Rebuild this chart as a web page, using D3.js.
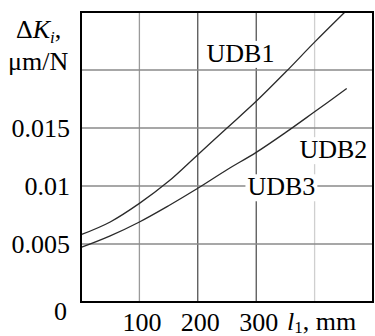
<!DOCTYPE html>
<html>
<head>
<meta charset="utf-8">
<script src="https://cdn.jsdelivr.net/npm/d3@7"></script>
<style>
  body { margin: 0; background: #fff; }
  text { font-family: "Liberation Serif", "Times New Roman", serif; fill: #000; }
</style>
</head>
<body>
<div id="chart"></div>
<script>
// curve data (l1 in mm, deltaK in um/N)
const lenUDB1 = [0, 50, 100, 150, 200, 250, 300, 350, 400, 452];
const valUDB1 = [0.0058, 0.0069, 0.0085, 0.0104, 0.0127, 0.0150, 0.0173, 0.0198, 0.0224, 0.025];
const lenUDB23 = [0, 50, 100, 150, 200, 250, 300, 350, 400, 455];
const valUDB23 = [0.0047, 0.0057, 0.0069, 0.0083, 0.0098, 0.0114, 0.0129, 0.0146, 0.0164, 0.0184];

const xTicks = [100, 200, 300];
const yTicks = [0, 0.005, 0.01, 0.015];
const xGrid = [100, 200, 300, 400];
const yGrid = [0.005, 0.01, 0.015, 0.02];

const width = 375, height = 336;
const margin = { top: 12, right: 2, bottom: 34, left: 81 };
const fs = 26;

const svg = d3.select("#chart").append("svg")
  .attr("width", width)
  .attr("height", height);

const x = d3.scaleLinear().domain([0, 500]).range([margin.left, width - margin.right]);
const y = d3.scaleLinear().domain([0, 0.025]).range([height - margin.bottom, margin.top]);

// grid lines - vertical ones have different shades in the original
const vColor = { 100: "#9a9a9a", 200: "#222", 300: "#222", 400: "#cfcfcf" };
svg.append("g").selectAll("line")
  .data(xGrid)
  .join("line")
  .attr("x1", d => x(d)).attr("x2", d => x(d))
  .attr("y1", y(0)).attr("y2", y(0.025))
  .attr("stroke", d => vColor[d])
  .attr("stroke-width", d => (d == 200 || d == 300) ? 1 : 1.3);

svg.append("g").selectAll("line")
  .data(yGrid)
  .join("line")
  .attr("x1", x(0)).attr("x2", x(500))
  .attr("y1", d => y(d)).attr("y2", d => y(d))
  .attr("stroke", "#8a8a8a")
  .attr("stroke-width", 1.3);

// curves
const line = d3.line()
  .x(d => x(d[0]))
  .y(d => y(d[1]))
  .curve(d3.curveCatmullRom);

const series = [
  d3.zip(lenUDB1, valUDB1),
  d3.zip(lenUDB23, valUDB23)
];

svg.append("g").selectAll("path")
  .data(series)
  .join("path")
  .attr("d", line)
  .attr("fill", "none")
  .attr("stroke", "#2a2a2a")
  .attr("stroke-width", 1.3);

// curve labels (anchored at text baseline) with white boxes behind
const labels = [
  { text: "UDB1", l: 215, v: 0.0207 },
  { text: "UDB2", l: 374, v: 0.0124 },
  { text: "UDB3", l: 285, v: 0.0092 }
];
const lab = svg.append("g").selectAll("g")
  .data(labels)
  .join("g")
  .attr("transform", d => `translate(${x(d.l)},${y(d.v)})`);
lab.append("text")
  .attr("font-size", fs)
  .text(d => d.text);
lab.each(function () {
  const g = d3.select(this);
  const b = g.select("text").node().getBBox();
  g.insert("rect", "text")
    .attr("x", b.x - 2).attr("y", b.y + 2)
    .attr("width", b.width + 4).attr("height", b.height - 2)
    .attr("fill", "#fff");
});

// frame
svg.append("rect")
  .attr("x", x(0)).attr("y", y(0.025))
  .attr("width", x(500) - x(0)).attr("height", y(0) - y(0.025))
  .attr("fill", "none")
  .attr("stroke", "#000")
  .attr("stroke-width", 2);

// axes
const yAxis = svg.append("g")
  .attr("transform", `translate(${x(0)},0)`)
  .call(d3.axisLeft(y).tickValues(yTicks).tickSize(0).tickPadding(11)
    .tickFormat(d => String(+d.toFixed(3))));
yAxis.select(".domain").remove();
yAxis.selectAll("text")
  .attr("font-size", fs)
  .attr("font-family", null)
  .attr("dy", "0.34em");
yAxis.selectAll(".tick").filter(d => d === 0).select("text")
  .attr("x", -14).attr("dy", "0.68em");

const xAxis = svg.append("g")
  .attr("transform", `translate(0,${y(0)})`)
  .call(d3.axisBottom(x).tickValues(xTicks).tickSize(0));
xAxis.select(".domain").remove();
xAxis.selectAll("text")
  .attr("font-size", fs)
  .attr("font-family", null)
  .attr("y", 29)
  .attr("dx", 2)
  .attr("dy", null);

// axis titles
const xt = svg.append("text")
  .attr("x", 287).attr("y", 330)
  .attr("font-size", fs);
xt.append("tspan").attr("font-style", "italic").text("l");
xt.append("tspan").attr("font-size", 17).attr("dy", 3).text("1");
xt.append("tspan").attr("dy", -3).text(", mm");

const yt = svg.append("text")
  .attr("x", 16).attr("y", 38)
  .attr("font-size", fs);
yt.append("tspan").text("Δ");
yt.append("tspan").attr("font-style", "italic").text("K");
yt.append("tspan").attr("font-style", "italic").attr("font-size", 17).attr("dy", 5).text("i");
yt.append("tspan").attr("dy", -5).text(",");

svg.append("text")
  .attr("x", 8).attr("y", 70)
  .attr("font-size", fs)
  .text("μm/N");
</script>
</body>
</html>
